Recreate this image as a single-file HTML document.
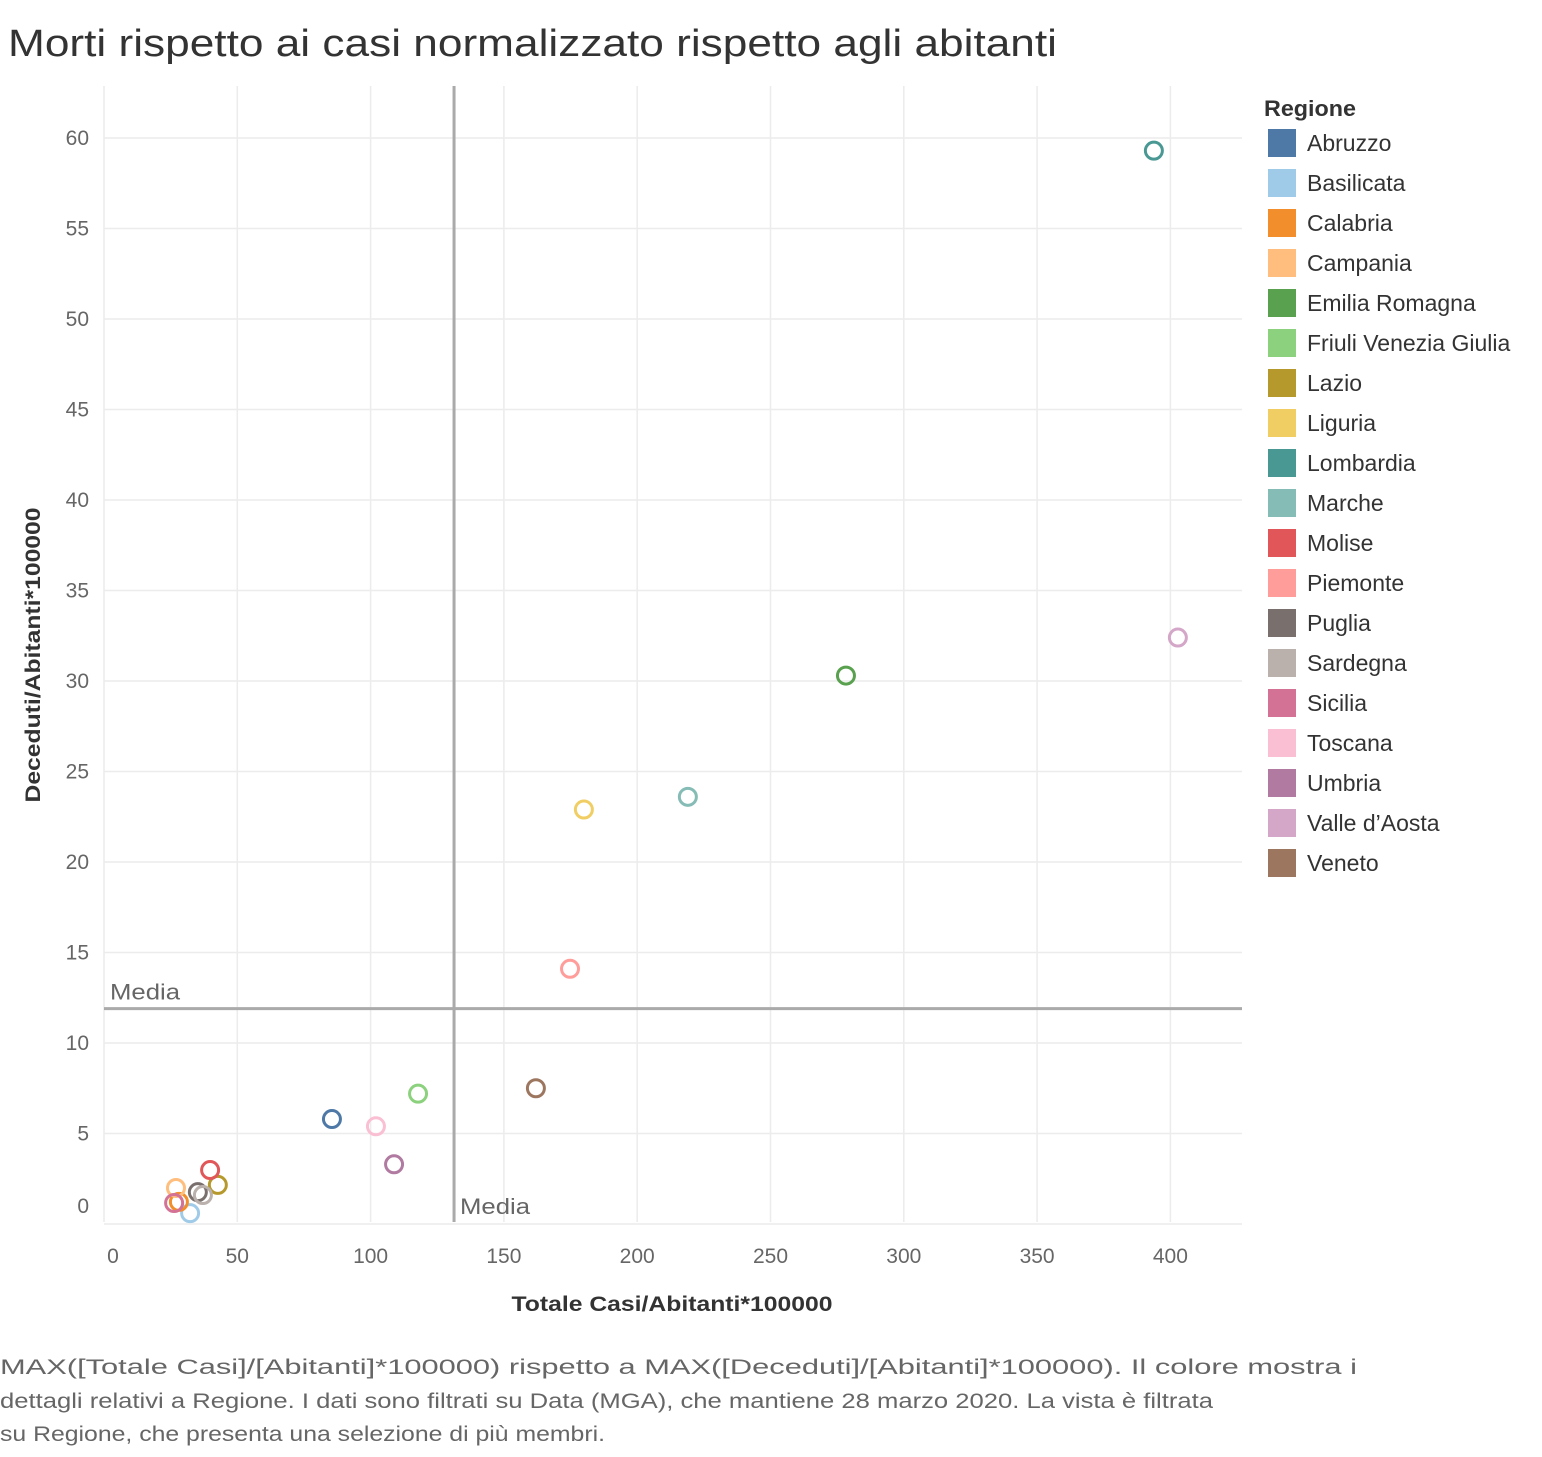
<!DOCTYPE html>
<html><head><meta charset="utf-8"><style>
body{margin:0;background:#fff;width:1542px;height:1452px;overflow:hidden;font-family:"Liberation Sans",sans-serif}
svg text{font-family:"Liberation Sans",sans-serif}
</style></head><body>
<svg id="chart" width="1542" height="1452">
<text x="8" y="56" font-size="38" fill="#333" textLength="1049" lengthAdjust="spacingAndGlyphs">Morti rispetto ai casi normalizzato rispetto agli abitanti</text>
<g id="grid"></g>
<g id="marks"></g>
<g id="legend"></g>
<text x="672" y="1311" font-size="21" font-weight="bold" fill="#333" text-anchor="middle" textLength="321" lengthAdjust="spacingAndGlyphs">Totale Casi/Abitanti*100000</text>
<text transform="translate(40,655) rotate(-90)" font-size="21" font-weight="bold" fill="#333" text-anchor="middle" textLength="295" lengthAdjust="spacingAndGlyphs">Deceduti/Abitanti*100000</text>
<g font-size="21" fill="#666">
<text x="0" y="1374" textLength="1357" lengthAdjust="spacingAndGlyphs">MAX([Totale Casi]/[Abitanti]*100000) rispetto a MAX([Deceduti]/[Abitanti]*100000).  Il colore mostra i</text>
<text x="0" y="1408" textLength="1213" lengthAdjust="spacingAndGlyphs">dettagli relativi a Regione. I dati sono filtrati su Data (MGA), che mantiene 28 marzo 2020. La vista è filtrata</text>
<text x="0" y="1441" textLength="605" lengthAdjust="spacingAndGlyphs">su Regione, che presenta una selezione di più membri.</text>
</g>
</svg>
<script>
const regions=["Abruzzo","Basilicata","Calabria","Campania","Emilia Romagna","Friuli Venezia Giulia","Lazio","Liguria","Lombardia","Marche","Molise","Piemonte","Puglia","Sardegna","Sicilia","Toscana","Umbria","Valle d’Aosta","Veneto"];
const colors=["#4e79a7","#a0cbe8","#f28e2b","#ffbe7d","#59a14f","#8cd17d","#b6992d","#f1ce63","#499894","#86bcb6","#e15759","#ff9d9a","#79706e","#bab0ac","#d37295","#fabfd2","#b07aa1","#d4a6c8","#9d7660"];
const casi=[85.5,32.3,28.1,27,278.3,117.8,42.7,180,393.8,219,39.8,174.8,35.2,37.1,26.3,102,108.8,402.8,162];
const morti=[5.8,0.6,1.22,1.99,30.3,7.2,2.16,22.9,59.3,23.6,2.98,14.1,1.76,1.6,1.16,5.4,3.3,32.4,7.5];
const xTicks=[0,50,100,150,200,250,300,350,400];
const yTicks=[0,5,10,15,20,25,30,35,40,45,50,55,60];
const mediaX=131.3, mediaY=11.9;
const NS="http://www.w3.org/2000/svg";
const X=v=>104+v*2.666, Y=v=>1224-v*18.1;
function mk(p,t,a){const e=document.createElementNS(NS,t);for(const k in a)e.setAttribute(k,a[k]);p.appendChild(e);return e;}
const g=document.getElementById('grid');
xTicks.forEach(t=>{
 const l=mk(g,'line',{x1:X(t),x2:X(t),y1:86,y2:1222,stroke:'#ececec','stroke-width':1.5});
 
 
 const tx=mk(g,'text',{x:t===0?113:X(t),y:1263,'font-size':21,fill:'#666','text-anchor':'middle'});tx.textContent=t;
 
 
});
yTicks.forEach(t=>{
 const l=mk(g,'line',{x1:104,x2:1242,y1:Y(t),y2:Y(t),stroke:'#ececec','stroke-width':1.5});
 
 
 const tx=mk(g,'text',{x:89,y:t===0?1213:Y(t)+7,'font-size':21,fill:'#666','text-anchor':'end'});tx.textContent=t;
 
 
});
let rl=mk(g,'line',{x1:X(mediaX),x2:X(mediaX),y1:86,y2:1222,stroke:'#aaa','stroke-width':3});


rl=mk(g,'line',{x1:104,x2:1242,y1:Y(mediaY),y2:Y(mediaY),stroke:'#aaa','stroke-width':3});


let t1=mk(g,'text',{x:110,y:Y(mediaY)-9,'font-size':22,fill:'#666',textLength:70,lengthAdjust:'spacingAndGlyphs'});t1.textContent='Media';


let t2=mk(g,'text',{x:X(mediaX)+6,y:1214,'font-size':22,fill:'#666',textLength:70,lengthAdjust:'spacingAndGlyphs'});t2.textContent='Media';


const m=document.getElementById('marks');
regions.forEach((r,i)=>{
 const c=mk(m,'circle',{cx:X(casi[i]),cy:Y(morti[i]),r:8.5,fill:'none',stroke:colors[i],'stroke-width':3});
 
 
});
const lg=document.getElementById('legend');
let h=mk(lg,'text',{x:1264,y:116,'font-size':22,'font-weight':'bold',fill:'#333',textLength:92,lengthAdjust:'spacingAndGlyphs'});h.textContent='Regione';


regions.forEach((r,i)=>{
 const y=129+i*40;
 const s=mk(lg,'rect',{x:1268,y:y,width:28,height:28,fill:colors[i]});
 
 
 const t=mk(lg,'text',{x:1307,y:y+22,'font-size':23,fill:'#333'});t.textContent=r;
 
 
});
</script>
</body></html>
